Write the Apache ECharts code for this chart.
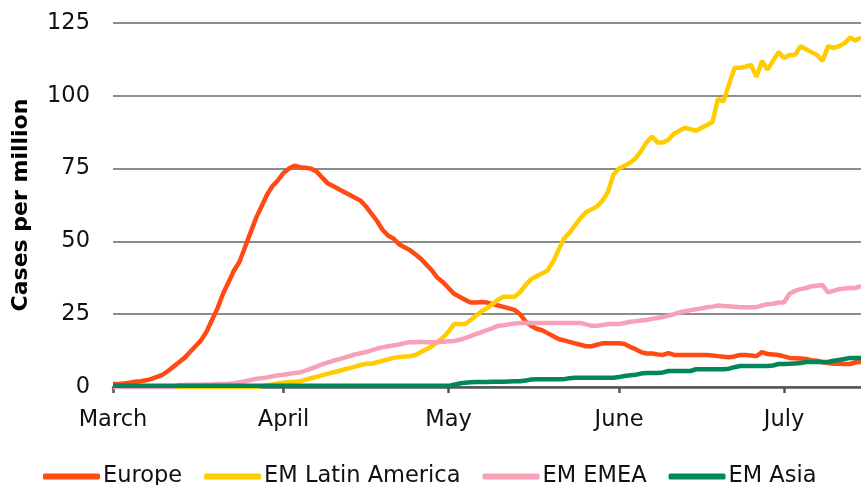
<!DOCTYPE html>
<html>
<head>
<meta charset="utf-8">
<script src="https://cdn.jsdelivr.net/npm/echarts@6/dist/echarts.min.js"></script>
<style>html,body{margin:0;padding:0;background:#fff}#c{width:861px;height:485px}</style>
</head>
<body>
<div id="c"></div>
<script>
const monthNames = ['March', 'April', 'May', 'June', 'July'];
const monthDays = [31, 30, 31, 30, 15];
const yTicks = [0, 25, 50, 75, 100, 125];
const seriesNames = ['Europe', 'EM Latin America', 'EM EMEA', 'EM Asia'];

const europe = [
  1, 1, 1.2, 1.5, 1.8, 2, 2.3, 2.8, 3.5, 4.2,
  5.5, 7, 8.5, 10, 12, 14, 16, 19, 23, 27,
  32, 36, 40, 43, 48, 53, 58, 62, 66, 69,
  71, 73.5, 75, 76, 75.5, 75.3, 75, 74, 72, 70,
  69, 68, 67, 66, 65, 64, 62, 59.5, 57, 54,
  52, 51, 49, 48, 47, 45.5, 44, 42, 40, 37.5,
  36, 34, 32, 31, 30, 29, 29, 29.2, 29, 28.5,
  28, 27.5, 27, 26.5, 25, 22.5, 21, 20, 19.5, 18.5,
  17.5, 16.5, 16, 15.5, 15, 14.5, 14, 14, 14.5, 15,
  15, 15, 15, 14.8, 13.8, 13, 12, 11.5, 11.5, 11.2,
  11, 11.6, 11, 11, 11, 11, 11, 11, 11, 10.8,
  10.6, 10.4, 10.2, 10.5, 11, 11, 10.8, 10.6, 12, 11.3,
  11.2, 11, 10.5, 10, 9.9, 9.8, 9.6, 9.2, 9, 8.5,
  8.2, 8, 8, 7.9, 7.9, 8.5, 8.6
];
const latAm = [
  0, 0, 0, 0, 0, 0, 0, 0, 0, 0,
  0, 0, 0, 0, 0, 0, 0, 0, 0, 0,
  0, 0, 0, 0, 0, 0, 0, 0.3, 0.6, 0.9,
  1.2, 1.5, 1.7, 1.8, 2, 2.5, 3, 3.5, 4, 4.5,
  5, 5.5, 6, 6.5, 7, 7.5, 8, 8, 8.5, 9,
  9.5, 10, 10.3, 10.5, 10.6, 11, 12, 13, 14, 15.5,
  17, 19, 21.6, 21.6, 21.6, 23, 24.5, 26, 27, 28.5,
  30, 31, 31, 31, 32.5, 35, 37, 38, 39, 40,
  43, 47, 51, 53, 55.5, 58, 60, 61, 62, 64,
  67, 73, 75, 76, 77, 78.5, 81, 84, 86, 84,
  84, 85, 87, 88, 89, 88.5, 88, 89, 90, 91,
  99, 98, 104, 109.6, 109.6, 110, 110.6, 106.5, 112, 109,
  112, 115, 113, 114, 114, 117, 116, 115, 114, 112,
  117, 116.5, 117, 118, 120, 119, 120
];
const emea = [
  0, 0, 0, 0, 0, 0, 0, 0, 0, 0,
  0, 0, 0.7, 0.7, 0.8, 0.8, 0.8, 0.9, 0.9, 1,
  1, 1.1, 1.3, 1.6, 2, 2.4, 2.8, 3, 3.3, 3.7,
  4, 4.2, 4.5, 4.8, 5, 5.6, 6.3, 7, 7.8, 8.4,
  9, 9.5, 10, 10.6, 11.2, 11.6, 12, 12.6, 13.2, 13.6,
  14, 14.3, 14.6, 15, 15.4, 15.4, 15.5, 15.4, 15.4, 15.4,
  15.5, 15.7, 15.8, 16.2, 16.8, 17.5, 18.2, 18.8, 19.5, 20.2,
  21, 21.2, 21.5, 21.8, 22, 22, 22, 22, 22, 22,
  22, 22, 22, 22, 22, 22, 21.5, 21, 21, 21.3,
  21.6, 21.6, 21.6, 22, 22.4, 22.6, 22.8, 23, 23.4, 23.7,
  24, 24.5, 25, 25.6, 26, 26.4, 26.7, 27, 27.4, 27.6,
  28, 27.8, 27.7, 27.6, 27.4, 27.4, 27.4, 27.4, 28, 28.4,
  28.6, 29, 29, 32, 33, 33.6, 34, 34.6, 34.8, 35,
  32.5, 33, 33.6, 33.8, 34, 34, 34.6
];
const asia = [
  0.4, 0.4, 0.4, 0.4, 0.4, 0.4, 0.4, 0.4, 0.4, 0.4,
  0.4, 0.4, 0.4, 0.4, 0.4, 0.4, 0.4, 0.4, 0.4, 0.4,
  0.4, 0.4, 0.4, 0.4, 0.4, 0.4, 0.4, 0.4, 0.4, 0.4,
  0.4, 0.4, 0.4, 0.4, 0.4, 0.4, 0.4, 0.4, 0.4, 0.4,
  0.4, 0.4, 0.4, 0.4, 0.4, 0.4, 0.4, 0.4, 0.4, 0.4,
  0.4, 0.4, 0.4, 0.4, 0.4, 0.4, 0.4, 0.4, 0.4, 0.4,
  0.4, 0.4, 0.8, 1.2, 1.5, 1.6, 1.7, 1.7, 1.7, 1.8,
  1.8, 1.8, 1.9, 2, 2, 2.2, 2.6, 2.7, 2.7, 2.7,
  2.7, 2.7, 2.7, 3, 3.2, 3.2, 3.2, 3.2, 3.2, 3.2,
  3.2, 3.2, 3.4, 3.8, 4, 4.2, 4.6, 4.8, 4.8, 4.8,
  5, 5.5, 5.5, 5.5, 5.5, 5.5, 6.1, 6.1, 6.1, 6.1,
  6.1, 6.1, 6.3, 6.8, 7.2, 7.2, 7.2, 7.2, 7.2, 7.2,
  7.4, 7.9, 7.9, 8, 8.1, 8.2, 8.6, 8.6, 8.6, 8.6,
  8.6, 9, 9.3, 9.6, 10, 10, 10
];

const categories = [];
monthNames.forEach((m, k) => {
  for (let d = 1; d <= monthDays[k]; d++) categories.push(m + ' ' + d);
});
const isMonthStart = (v) => / 1$/.test(v);

const colors = ['#FF4A14', '#FFCC00', '#F7A1B7', '#00875A'];
const font = '"DejaVu Sans", sans-serif';

const chart = echarts.init(document.getElementById('c'), null, { renderer: 'canvas' });
chart.setOption({
  animation: false,
  color: colors,
  grid: { left: 113, right: 0, top: 23, bottom: 98, containLabel: false },
  xAxis: {
    type: 'category',
    data: categories,
    boundaryGap: false,
    axisLine: { lineStyle: { color: '#555', width: 2.5 } },
    axisTick: {
      interval: (i, v) => isMonthStart(v),
      length: 6,
      lineStyle: { color: '#555', width: 2.5 }
    },
    axisLabel: {
      interval: (i, v) => isMonthStart(v),
      formatter: (v) => v.split(' ')[0],
      margin: 22,
      fontSize: 22.5,
      fontFamily: font,
      color: '#111'
    },
    splitLine: { show: false }
  },
  yAxis: {
    type: 'value',
    min: yTicks[0],
    max: yTicks[yTicks.length - 1],
    interval: 25,
    name: 'Cases per million',
    nameLocation: 'middle',
    nameGap: 81,
    nameRotate: 90,
    nameTextStyle: { fontSize: 22, fontWeight: 'bold', fontFamily: font, color: '#000' },
    axisLine: { show: false },
    axisTick: { show: false },
    axisLabel: { fontSize: 22.5, fontFamily: font, color: '#111', margin: 23 },
    splitLine: { lineStyle: { color: '#8c8c8c', width: 2 } }
  },
  legend: {
    top: 460,
    left: 38,
    icon: 'roundRect',
    itemWidth: 57,
    itemHeight: 6,
    itemGap: 22,
    textStyle: { fontSize: 22.5, fontFamily: font, color: '#111', padding: [0, 0, 0, -2] },
    data: seriesNames
  },
  series: [
    { name: seriesNames[0], type: 'line', data: europe, showSymbol: false, lineStyle: { width: 4.5 } },
    { name: seriesNames[1], type: 'line', data: latAm, showSymbol: false, lineStyle: { width: 4.5 } },
    { name: seriesNames[2], type: 'line', data: emea, showSymbol: false, lineStyle: { width: 4.5 } },
    { name: seriesNames[3], type: 'line', data: asia, showSymbol: false, lineStyle: { width: 4.5 } }
  ]
});
</script>
</body>
</html>
